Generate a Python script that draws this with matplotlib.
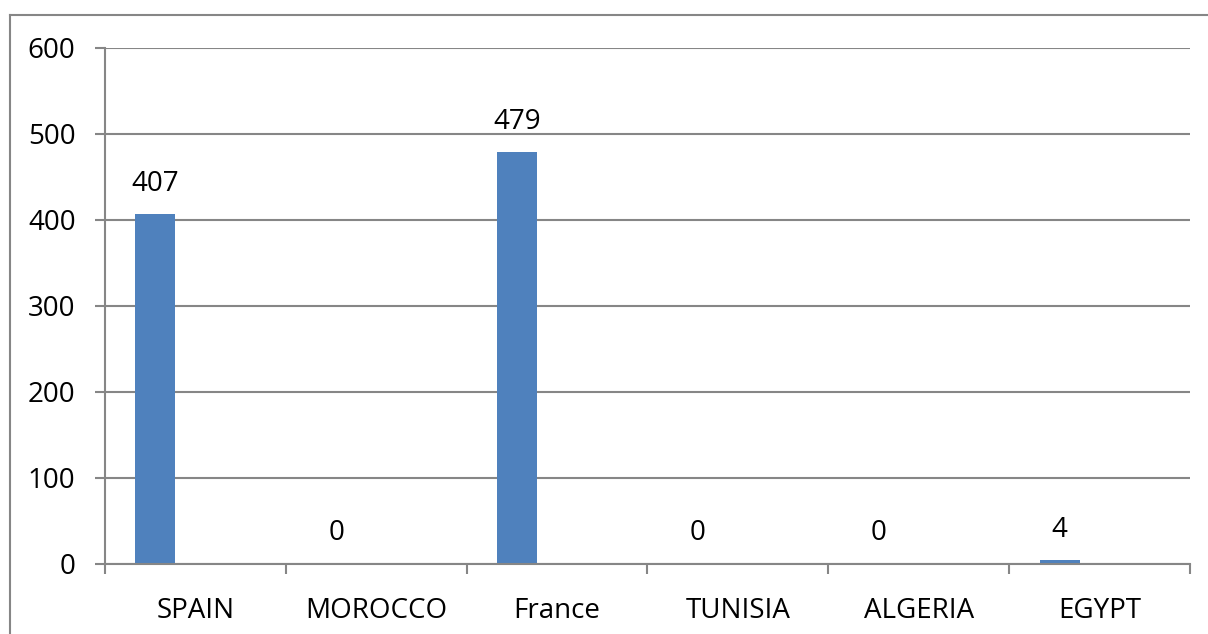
import matplotlib
matplotlib.use("Agg")
import matplotlib.pyplot as plt
from matplotlib.lines import Line2D
import numpy as np

countries = ["SPAIN", "MOROCCO", "France", "TUNISIA", "ALGERIA", "EGYPT"]
values = [407, 0, 479, 0, 0, 4]
y_ticks = [0, 100, 200, 300, 400, 500, 600]

BAR_COLOR = "#4F81BD"
GRID_COLOR = "#868686"
FONT = "Open Sans"
FS = 20

fig = plt.figure(figsize=(12.08, 6.34), dpi=100)
ax = fig.add_axes([105 / 1208, 1 - 563.5 / 634, (1190 - 105) / 1208, (563.5 - 47.7) / 634])

# clustered layout: three slots per category, only the first one is filled
n_slots = 3
bar_w = 0.2214
gap = 1 - n_slots * bar_w
x = np.arange(len(countries))
centers = x - 0.5 + gap / 2 + bar_w / 2

ax.bar(centers, values, width=bar_w, color=BAR_COLOR, zorder=3)

for cx, v in zip(centers, values):
    ax.annotate(f"{v}", (cx, v), xytext=(0, 21.6), textcoords="offset points",
                ha="center", va="center", fontsize=FS, family=FONT, color="black")

ax.set_xlim(-0.5, len(countries) - 0.5)
ax.set_ylim(0, 600)

ax.set_yticks(y_ticks)
ax.set_yticklabels([str(t) for t in y_ticks], fontsize=FS, family=FONT)
ax.yaxis.grid(True, color=GRID_COLOR, linewidth=1.5, zorder=0)
ax.tick_params(axis="y", length=7.2, width=1.5, color=GRID_COLOR, pad=14)

ax.set_xticks(np.arange(len(countries) + 1) - 0.5)
ax.set_xticklabels([])
ax.set_xticks(x, minor=True)
ax.set_xticklabels(countries, minor=True, fontsize=FS, family=FONT)
ax.tick_params(axis="x", which="major", length=7.2, width=1.5, color=GRID_COLOR)
ax.tick_params(axis="x", which="minor", length=0, pad=24)

for side in ("top", "right"):
    ax.spines[side].set_visible(False)
for side in ("left", "bottom"):
    ax.spines[side].set_color(GRID_COLOR)
    ax.spines[side].set_linewidth(1.5)
    ax.spines[side].set_zorder(4)

# chart-area frame (left and top edges)
fx, fy = 10 / 1208, 1 - 15 / 634
fig.add_artist(Line2D([fx, fx], [0, fy], transform=fig.transFigure, color=GRID_COLOR, linewidth=1.5))
fig.add_artist(Line2D([fx, 1], [fy, fy], transform=fig.transFigure, color=GRID_COLOR, linewidth=1.5))

fig.savefig("out.png", dpi=100)
